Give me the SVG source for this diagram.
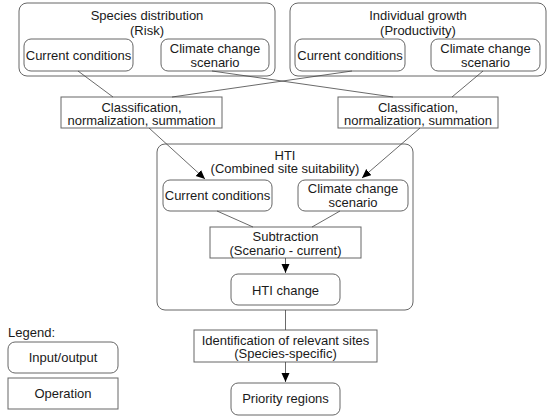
<svg xmlns="http://www.w3.org/2000/svg" width="550" height="420" viewBox="0 0 550 420">
<style>
.io{fill:#fff;stroke:#666;stroke-width:1}
.op{fill:#fff;stroke:#666;stroke-width:1}
.grp{fill:none;stroke:#666;stroke-width:1}
text{font-family:"Liberation Sans",Arial,sans-serif;font-size:13px;fill:#1a1a1a;text-anchor:middle}
.c{fill:none;stroke:#444;stroke-width:0.8}
</style>
<defs>
<marker id="ah" markerWidth="10" markerHeight="10" refX="9" refY="4" orient="auto" markerUnits="userSpaceOnUse">
<path d="M0,0 L9,4 L0,8 Z" fill="#000"/>
</marker>
</defs>
<rect width="550" height="420" fill="#fff"/>
<g id="species">
<rect class="grp" x="19" y="3" width="256" height="73" rx="8"/>
<text x="147" y="20">Species distribution</text>
<text x="147" y="35">(Risk)</text>
</g>
<g id="sp-current">
<rect class="io" x="24" y="39" width="109" height="32" rx="7"/>
<text x="78.5" y="59.5">Current conditions</text>
</g>
<g id="sp-climate">
<rect class="io" x="161" y="39" width="108" height="32" rx="7"/>
<text x="215" y="52.5">Climate change</text>
<text x="215" y="67">scenario</text>
</g>
<g id="growth">
<rect class="grp" x="290" y="3" width="256" height="73" rx="8"/>
<text x="418" y="20">Individual growth</text>
<text x="418" y="35">(Productivity)</text>
</g>
<g id="gr-current">
<rect class="io" x="295" y="39" width="110" height="32" rx="7"/>
<text x="350" y="59.5">Current conditions</text>
</g>
<g id="gr-climate">
<rect class="io" x="431" y="39" width="109" height="32" rx="7"/>
<text x="485.5" y="52.5">Climate change</text>
<text x="485.5" y="67">scenario</text>
</g>
<g id="class-left">
<rect class="op" x="61" y="97" width="161" height="31"/>
<text x="141.5" y="111.5">Classification,</text>
<text x="141.5" y="125">normalization, summation</text>
</g>
<g id="class-right">
<rect class="op" x="338" y="97" width="160" height="31"/>
<text x="418" y="111.5">Classification,</text>
<text x="418" y="125">normalization, summation</text>
</g>
<g id="hti">
<rect class="grp" x="157" y="144" width="256" height="166" rx="8"/>
<text x="285" y="159.5">HTI</text>
<text x="285" y="173">(Combined site suitability)</text>
</g>
<g id="hti-current">
<rect class="io" x="163" y="180" width="109" height="31" rx="7"/>
<text x="217.5" y="200">Current conditions</text>
</g>
<g id="hti-climate">
<rect class="io" x="298" y="180" width="110" height="31" rx="7"/>
<text x="353" y="192.5">Climate change</text>
<text x="353" y="207">scenario</text>
</g>
<g id="subtraction">
<rect class="op" x="210" y="227" width="151" height="31"/>
<text x="285.5" y="240.5">Subtraction</text>
<text x="285.5" y="254.5">(Scenario - current)</text>
</g>
<g id="hti-change">
<rect class="io" x="231" y="274" width="109" height="31" rx="7"/>
<text x="285.5" y="294.5">HTI change</text>
</g>
<g id="identification">
<rect class="op" x="194" y="330" width="183" height="32"/>
<text x="285.5" y="344.5">Identification of relevant sites</text>
<text x="285.5" y="358">(Species-specific)</text>
</g>
<g id="priority">
<rect class="io" x="231" y="383" width="109" height="32" rx="7"/>
<text x="285.5" y="403">Priority regions</text>
</g>
<g id="legend">
<text x="8" y="336.5" style="text-anchor:start">Legend:</text>
<rect class="io" x="8" y="342" width="110" height="31" rx="7"/>
<text x="63" y="362">Input/output</text>
<rect class="op" x="8" y="378" width="110" height="31"/>
<text x="63" y="398">Operation</text>
</g>
<g id="connectors">
<line class="c" x1="78" y1="71" x2="113" y2="97"/>
<line class="c" x1="352" y1="71" x2="172" y2="97"/>
<line class="c" x1="212" y1="71" x2="393" y2="97"/>
<line class="c" x1="483" y1="71" x2="452" y2="97"/>
<line class="c" x1="149" y1="128" x2="205" y2="179" marker-end="url(#ah)"/>
<line class="c" x1="420" y1="128" x2="362" y2="178" marker-end="url(#ah)"/>
<line class="c" x1="217" y1="211" x2="253" y2="227"/>
<line class="c" x1="340" y1="211" x2="312" y2="227"/>
<line class="c" x1="285.5" y1="258" x2="285.5" y2="273" marker-end="url(#ah)"/>
<line class="c" x1="285.5" y1="310" x2="285.5" y2="330"/>
<line class="c" x1="285.5" y1="362" x2="285.5" y2="382" marker-end="url(#ah)"/>
</g>
</svg>
